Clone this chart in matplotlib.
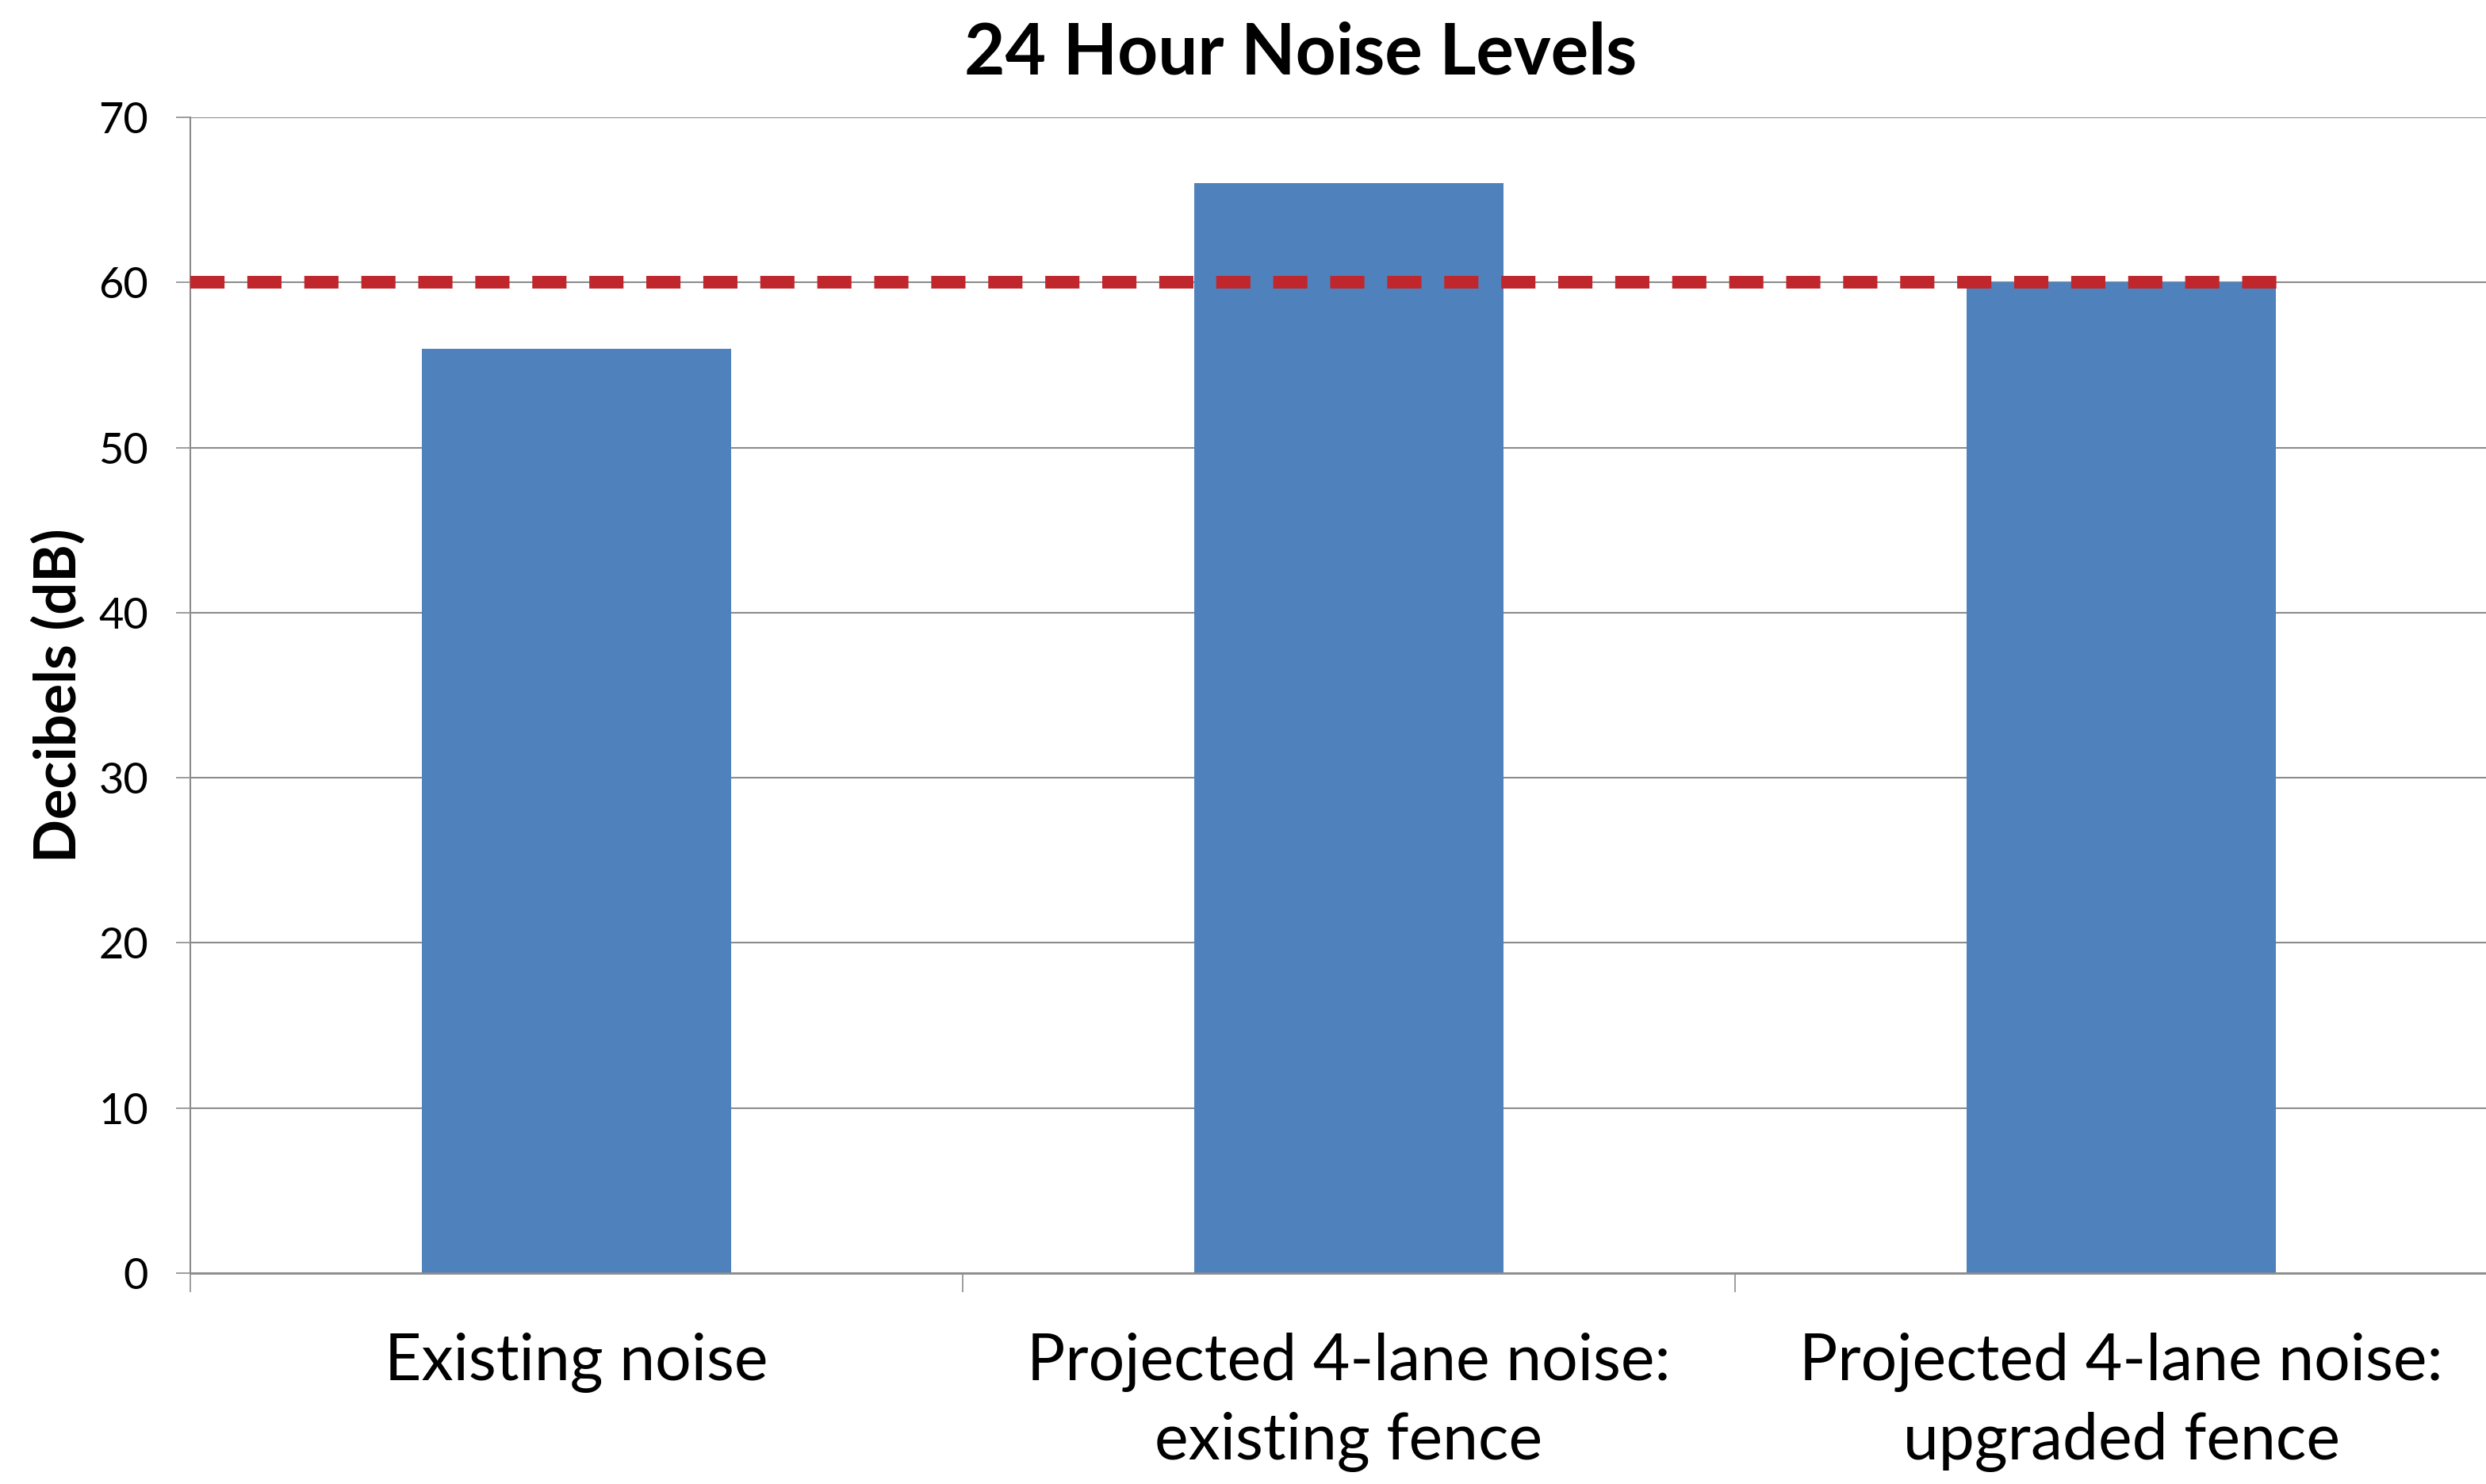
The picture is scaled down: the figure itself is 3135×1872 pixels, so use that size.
import matplotlib
matplotlib.use('Agg')
import matplotlib.pyplot as plt

categories = ['Existing noise',
              'Projected 4-lane noise:\nexisting fence',
              'Projected 4-lane noise:\nupgraded fence']
noise_db = [56, 66, 60]
limit_db = 60
y_ticks = [0, 10, 20, 30, 40, 50, 60, 70]

plt.rcParams['font.family'] = ['Lato', 'DejaVu Sans']

BAR = '#4F81BD'
RED = '#C0272D'
GRID = '#8C8C8C'

W, H = 3135, 1872
fig = plt.figure(figsize=(W / 100, H / 100), dpi=100, facecolor='white')
left, right, top, bottom = 240, 3162, 148, 1606
ax = fig.add_axes([left / W, (H - bottom) / H, (right - left) / W, (bottom - top) / H])

x = list(range(len(categories)))
ax.bar(x, noise_db, width=0.4, color=BAR, zorder=2)

# limit line drawn across the chart
ax.plot([-0.5, 2.23], [limit_db, limit_db], color=RED, lw=11.5,
        dashes=(2.7, 1.8), solid_capstyle='butt', dash_capstyle='butt',
        zorder=3, clip_on=False)

ax.set_xlim(-0.5, 2.5)
ax.set_ylim(0, 70)
ax.set_yticks(y_ticks)
ax.set_yticklabels([str(t) for t in y_ticks], fontsize=39)
ax.yaxis.grid(True, color=GRID, lw=1.5, zorder=0)
ax.set_axisbelow(True)

ax.set_xticks(x)
ax.set_xticklabels(categories, fontsize=58, linespacing=1.42)
ax.set_xticks([-0.5, 0.5, 1.5, 2.5], minor=True)
ax.tick_params(axis='x', which='major', length=0, pad=54)
ax.tick_params(axis='x', which='minor', length=17, width=1.2, color=GRID, direction='out')
ax.tick_params(axis='y', length=13, width=1.2, color=GRID, direction='out', pad=25)

for s in ['top', 'right']:
    ax.spines[s].set_visible(False)
ax.spines['left'].set_color(GRID)
ax.spines['left'].set_linewidth(1.5)
ax.spines['bottom'].set_color(GRID)
ax.spines['bottom'].set_linewidth(2)

ax.set_ylabel('Decibels (dB)', fontsize=52, fontweight='bold')
ax.yaxis.set_label_coords(-0.045, 0.5)

fig.text(1640 / W, 1 - 94 / H, '24 Hour Noise Levels', fontsize=64,
         fontweight='bold', ha='center', va='baseline')

fig.savefig('out.png', dpi=100, facecolor='white')
